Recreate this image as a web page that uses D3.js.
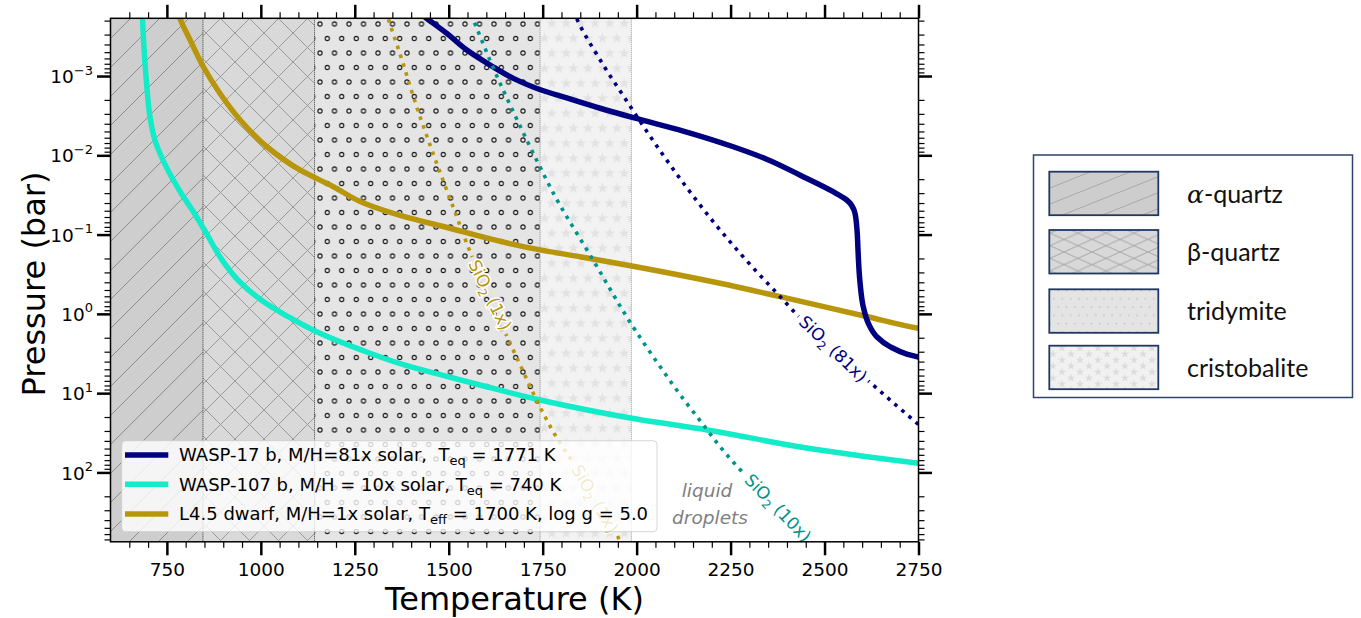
<!DOCTYPE html>
<html>
<head>
<meta charset="utf-8">
<script src="https://cdn.jsdelivr.net/npm/d3@7"></script>
<style>
  body { margin: 0; background: #fff; }
  svg { font-family: "DejaVu Sans", sans-serif; }
  text { white-space: pre; }
</style>
</head>
<body>
<svg id="chart" width="1361" height="618"></svg>
<script>
// ---- values ----
const phaseNames = ['α-quartz', 'β-quartz', 'tridymite', 'cristobalite']
const phaseEdges = [600, 846, 1143, 1743, 1986]   // K

const xTicks = [750, 1000, 1250, 1500, 1750, 2000, 2250, 2500, 2750]
const yTicks = [1e-3, 1e-2, 1e-1, 1, 10, 100]
const yTickExp = ['\u22123', '\u22122', '\u22121', '0', '1', '2']

// pressure-temperature profiles (T in K, P in bar)
const wasp17T = [1420, 1441, 1495, 1548, 1610, 1672, 1746, 1814, 1903, 1991, 2124, 2257, 2346, 2434, 2523, 2559, 2581, 2587, 2589, 2594.5, 2603, 2616.5, 2639, 2674, 2719, 2750, 2760]
const wasp17P = [1.57e-4, 1.87e-4, 2.9e-4, 4.7e-4, 7.26e-4, 1.07e-3, 1.5e-3, 1.89e-3, 2.55e-3, 3.35e-3, 4.95e-3, 7.8e-3, 0.0112, 0.0177, 0.0288, 0.0366, 0.0538, 0.0964, 0.156, 0.407, 0.811, 1.315, 1.94, 2.59, 3.21, 3.52, 3.63]

const wasp107T = [684, 687, 696, 705, 718, 748, 788, 823, 850, 903, 939, 1001, 1072, 1147, 1267, 1382, 1480, 1583, 1743, 1987, 2187, 2469, 2750, 2760]
const wasp107P = [1.41e-4, 2.9e-4, 1.24e-3, 3.26e-3, 6.41e-3, 0.0139, 0.0301, 0.0538, 0.0875, 0.23, 0.374, 0.668, 1.08, 1.67, 2.85, 4.41, 5.89, 7.89, 12.2, 20.7, 29.1, 50.6, 76.6, 77.6]

const dwarfT = [778, 785, 812, 847, 891, 945, 1016, 1104, 1193, 1275, 1382, 1480, 1743, 1849, 2222, 2382, 2612, 2750, 2760]
const dwarfP = [1.41e-4, 1.87e-4, 3.52e-4, 7.64e-4, 1.65e-3, 3.59e-3, 7.8e-3, 0.0153, 0.0249, 0.0403, 0.0594, 0.078, 0.156, 0.19, 0.411, 0.607, 1.08, 1.52, 1.55]

// SiO2 condensation curves
const sio2x1T = [1333, 1339, 1370, 1416, 1468, 1512, 1548, 1659, 1690, 1747, 1783, 1849, 1956, 1962]
const sio2x1P = [1.48e-4, 1.87e-4, 5.18e-4, 2.55e-3, 0.0126, 0.0453, 0.129, 2.13, 4.41, 16.3, 33.7, 101, 752, 891]
const sio2x10T = [1559, 1570, 1619, 1683, 1750, 1773, 1884, 1996, 2052, 2111, 2173, 2235, 2284, 2462, 2475]
const sio2x10P = [1.66e-4, 2.21e-4, 8.0e-4, 3.66e-3, 0.0164, 0.0269, 0.209, 1.6, 3.93, 9.75, 23.6, 56.2, 102, 759, 891]
const sio2x81T = [1831, 1841, 1903, 1974, 2044, 2133, 2228, 2311, 2382, 2417, 2639, 2736, 2767]
const sio2x81P = [1.48e-4, 1.91e-4, 6.28e-4, 2.08e-3, 6.55e-3, 0.0254, 0.0946, 0.266, 0.607, 0.918, 8.67, 21.8, 29.1]

const seriesNames = [
    'WASP-17 b, M/H=81x solar,  T|eq| = 1771 K',
    'WASP-107 b, M/H = 10x solar, T|eq| = 740 K',
    'L4.5 dwarf, M/H=1x solar, T|eff| = 1700 K, log g = 5.0'
]
const seriesColors = ['#000080', '#14ebc9', '#b8960b']

const condNames = ['1x', '1x', '10x', '81x']
const condLabelT = [1610, 1889, 2376, 2523]
const condLabelP = [0.578, 216, 281, 2.77]
const condLabelAngle = [64, 60, 46, 44]
const condColors = ['#b8960b', '#b8960b', '#00938a', '#000080']

// ---- layout ----
const W = 1361, H = 618
const X0 = 110.5, X1 = 918.5, Y0 = 18.3, Y1 = 541.8

const svg = d3.select('#chart')
const x = d3.scaleLinear().domain([600, 2750]).range([X0, X1])
const y = d3.scaleLog().domain([1.87e-4, 750]).range([Y0, Y1])

const defs = svg.append('defs')
defs.append('clipPath').attr('id', 'plotClip')
    .append('rect').attr('x', X0).attr('y', Y0).attr('width', X1 - X0).attr('height', Y1 - Y0)

function pattern(id, w, h, bg, px, py) {
    const p = defs.append('pattern').attr('id', id)
        .attr('patternUnits', 'userSpaceOnUse')
        .attr('width', w).attr('height', h)
        .attr('x', px || 0).attr('y', py || 0)
    p.append('rect').attr('width', w).attr('height', h).attr('fill', bg)
    return p
}

// plot hatches
pattern('hAlpha', 29, 29, '#cecece', 0, 4)
    .append('path').attr('d', 'M-1,1 L1,-1 M0,29 L29,0 M28,30 L30,28')
    .attr('stroke', '#8c8c8c').attr('stroke-width', 1)
pattern('hBeta', 29, 29, '#d9d9d9', 3, 4)
    .append('path').attr('d', 'M-1,1 L1,-1 M0,29 L29,0 M28,30 L30,28 M-1,-1 L30,30 M-1,28 L1,30 M28,-1 L30,1')
    .attr('stroke', '#9a9a9a').attr('stroke-width', 1)
const pTri = pattern('hTri', 14.5, 29, '#e5e5e5', 320, 169)
;[[0, 0], [14.5, 0], [0, 29], [14.5, 29], [7.25, 14.5]].forEach(([cx, cy]) =>
    pTri.append('circle').attr('cx', cx).attr('cy', cy).attr('r', 2.1)
        .attr('fill', 'none').attr('stroke', '#1a1a1a').attr('stroke-width', 1.1))
const pCri = pattern('hCri', 14.5, 30, '#f2f2f2', 551.7, 23.3)
const star = d3.symbol(d3.symbolStar, 38)
;[[0, 0], [14.5, 0], [0, 30], [14.5, 30], [7.25, 15]].forEach(([cx, cy]) =>
    pCri.append('path').attr('d', star).attr('transform', `translate(${cx},${cy})`).attr('fill', '#e2e2e2'))

// legend-box hatches (the pasted phase key)
pattern('lAlpha', 40, 16, '#cdcdcd')
    .append('path').attr('d', 'M0,16 L40,0 M-2,1 L2,-1 M38,17 L42,15')
    .attr('stroke', '#a9a9a9').attr('stroke-width', 1)
pattern('lBeta', 28, 12.6, '#d8d8d8')
    .append('path').attr('d', 'M0,12.6 L28,0 M0,0 L28,12.6')
    .attr('stroke', '#a8a8a8').attr('stroke-width', 1)
const lTri = pattern('lTri', 8.3, 16.6, '#e4e4e4')
;[[0, 0], [8.3, 0], [0, 16.6], [8.3, 16.6], [4.15, 8.3]].forEach(([cx, cy]) =>
    lTri.append('circle').attr('cx', cx).attr('cy', cy).attr('r', 0.8).attr('fill', '#b4b4b4'))
const lCri = pattern('lCri', 18, 12, '#f1f1f1')
;[[0, 0], [18, 0], [0, 12], [18, 12], [9, 6]].forEach(([cx, cy]) =>
    lCri.append('path').attr('d', d3.symbol(d3.symbolStar, 22)).attr('transform', `translate(${cx},${cy})`).attr('fill', '#dcdcdc'))

const plotFill = ['url(#hAlpha)', 'url(#hBeta)', 'url(#hTri)', 'url(#hCri)']
const keyFill = ['url(#lAlpha)', 'url(#lBeta)', 'url(#lTri)', 'url(#lCri)']

// ---- phase regions ----
const plot = svg.append('g').attr('clip-path', 'url(#plotClip)')
plot.selectAll('rect.phase').data(phaseNames).join('rect').attr('class', 'phase')
    .attr('x', (d, i) => x(phaseEdges[i]))
    .attr('width', (d, i) => x(phaseEdges[i + 1]) - x(phaseEdges[i]))
    .attr('y', Y0).attr('height', Y1 - Y0)
    .attr('fill', (d, i) => plotFill[i])

const edgeColors = ['#333', '#333', '#888', '#999']
plot.selectAll('line.edge').data(phaseEdges.slice(1)).join('line').attr('class', 'edge')
    .attr('x1', d => x(d)).attr('x2', d => x(d)).attr('y1', Y0).attr('y2', Y1)
    .attr('stroke', (d, i) => edgeColors[i]).attr('stroke-width', 1).attr('stroke-dasharray', '1,1')

// ---- curves ----
const line = d3.line().x(d => x(d[0])).y(d => y(d[1])).curve(d3.curveMonotoneY)
const zip = (a, b) => a.map((v, i) => [v, b[i]])

const solid = [zip(wasp17T, wasp17P), zip(wasp107T, wasp107P), zip(dwarfT, dwarfP)]
// gold first, navy last (navy on top)
;[2, 1, 0].forEach(i => plot.append('path').attr('d', line(solid[i]))
    .attr('fill', 'none').attr('stroke', seriesColors[i]).attr('stroke-width', 5.5))

const gapMask = defs.append('mask').attr('id', 'gapMask').attr('maskUnits', 'userSpaceOnUse')
    .attr('x', 0).attr('y', 0).attr('width', W).attr('height', H)
gapMask.append('rect').attr('width', W).attr('height', H).attr('fill', 'white')

const dotted = [zip(sio2x1T, sio2x1P), zip(sio2x10T, sio2x10P), zip(sio2x81T, sio2x81P)]
const dottedColors = ['#b8960b', '#00938a', '#000080']
const dotG = plot.append('g').attr('mask', 'url(#gapMask)')
dotted.forEach((pts, i) => dotG.append('path').attr('d', line(pts))
    .attr('fill', 'none').attr('stroke', dottedColors[i]).attr('stroke-width', 3.6)
    .attr('stroke-dasharray', '3.6,5.7'))

// condensation labels
condNames.forEach((n, i) => {
    const tr = `translate(${x(condLabelT[i])},${y(condLabelP[i])}) rotate(${condLabelAngle[i]})`
    const t = svg.append('text').attr('transform', tr)
        .attr('text-anchor', 'middle').attr('dy', '0.35em')
        .attr('font-size', 17).attr('fill', condColors[i])
        .attr('stroke', 'white').attr('stroke-width', 3).attr('paint-order', 'stroke')
    t.append('tspan').text('SiO')
    t.append('tspan').text('2').attr('font-size', 12).attr('dy', 4)
    t.append('tspan').text(` (${n})`).attr('dy', -4)
    const len = t.node().getComputedTextLength()
    gapMask.append('rect').attr('transform', tr)
        .attr('x', -len / 2 - 4).attr('y', -9).attr('width', len + 8).attr('height', 18).attr('fill', 'black')
})

svg.append('text').attr('x', 707).attr('y', 497).attr('text-anchor', 'middle')
    .attr('font-size', 18.5).attr('font-style', 'italic').attr('fill', '#808080').text('liquid')
svg.append('text').attr('x', 710).attr('y', 524).attr('text-anchor', 'middle')
    .attr('font-size', 18.5).attr('font-style', 'italic').attr('fill', '#808080').text('droplets')

// ---- axes ----
const xMinor = d3.range(650, 2751, 50).filter(v => !xTicks.includes(v))
const yMinor = []
d3.range(-4, 3).forEach(e => d3.range(2, 10).forEach(k => {
    const v = k * Math.pow(10, e)
    if (v > 1.87e-4 && v < 750) yMinor.push(v)
}))

function styleAxis(g, w) {
    g.select('.domain').remove()
    g.selectAll('.tick line').attr('stroke', '#000').attr('stroke-width', w)
}
const axes = [
    [d3.axisBottom, x, `translate(0,${Y1})`, xTicks, xMinor],
    [d3.axisTop, x, `translate(0,${Y0})`, xTicks, xMinor],
    [d3.axisLeft, y, `translate(${X0},0)`, yTicks, yMinor],
    [d3.axisRight, y, `translate(${X1},0)`, yTicks, yMinor]
]
axes.forEach(([ax, sc, tr, major, minor], k) => {
    svg.append('g').attr('transform', tr)
        .call(ax(sc).tickValues(minor).tickSize(6).tickFormat(''))
        .call(g => styleAxis(g, 1.2))
    const g = svg.append('g').attr('transform', tr)
        .call(ax(sc).tickValues(major).tickSize(13.5).tickPadding(k < 2 ? 7.5 : 4)
            .tickFormat(k === 0 ? d3.format('d') : ''))
        .call(g => styleAxis(g, 2.5))
    g.attr('font-family', null).attr('font-size', 18.5)
    if (k === 2) {
        g.selectAll('.tick text').each(function (d, i) {
            const t = d3.select(this).text(null).attr('dy', 6.6)
            t.append('tspan').text('10')
            t.append('tspan').text(yTickExp[i]).attr('font-size', 13).attr('dy', -8.5)
        })
    }
})

svg.append('rect').attr('x', X0).attr('y', Y0).attr('width', X1 - X0).attr('height', Y1 - Y0)
    .attr('fill', 'none').attr('stroke', '#000').attr('stroke-width', 1.5)

svg.append('text').attr('x', (X0 + X1) / 2).attr('y', 610).attr('text-anchor', 'middle')
    .attr('font-size', 32).text('Temperature (K)')
svg.append('text').attr('transform', `translate(45,${284}) rotate(-90)`).attr('text-anchor', 'middle')
    .attr('font-size', 32).text('Pressure (bar)')

// ---- series legend ----
const leg = svg.append('g')
const legBox = leg.append('rect').attr('x', 121.7).attr('y', 440.7).attr('height', 91).attr('rx', 4)
    .attr('fill', 'white').attr('fill-opacity', 0.8).attr('stroke', '#cccccc').attr('stroke-opacity', 0.8)
const legY = [455, 484.3, 514]
let legW = 0
seriesNames.forEach((name, i) => {
    leg.append('line').attr('x1', 125).attr('x2', 168.3).attr('y1', legY[i]).attr('y2', legY[i])
        .attr('stroke', seriesColors[i]).attr('stroke-width', 5.5)
    const parts = name.split('|')
    const t = leg.append('text').attr('x', 179).attr('y', legY[i] + 6.3).attr('font-size', 18)
    t.append('tspan').text(parts[0])
    t.append('tspan').text(parts[1]).attr('font-size', 13).attr('dy', 4)
    t.append('tspan').text(parts[2]).attr('dy', -4)
    legW = Math.max(legW, t.node().getComputedTextLength())
})
legBox.attr('width', 179 + legW + 9 - 121.7)

// ---- phase key (right) ----
const key = svg.append('g')
key.append('rect').attr('x', 1033.5).attr('y', 155).attr('width', 319).attr('height', 242.5)
    .attr('fill', 'white').attr('stroke', '#2f4468').attr('stroke-width', 1.5)
const keyTop = [171.7, 230, 289.3, 345.7]
phaseNames.forEach((n, i) => {
    key.append('rect').attr('x', 1049.3).attr('y', keyTop[i]).attr('width', 109).attr('height', 43.5)
        .attr('fill', keyFill[i]).attr('stroke', '#203864').attr('stroke-width', 1.8)
    const t = key.append('text').attr('x', 1187).attr('y', keyTop[i] + 31)
        .attr('font-family', 'Lato, "Open Sans", sans-serif').attr('font-size', 25).attr('fill', '#111')
    if (n.startsWith('α')) {
        t.append('tspan').text('α').attr('font-family', '"DejaVu Serif", serif').attr('font-style', 'italic')
        t.append('tspan').text(n.slice(1))
    } else {
        t.text(n)
    }
})
</script>
</body>
</html>
